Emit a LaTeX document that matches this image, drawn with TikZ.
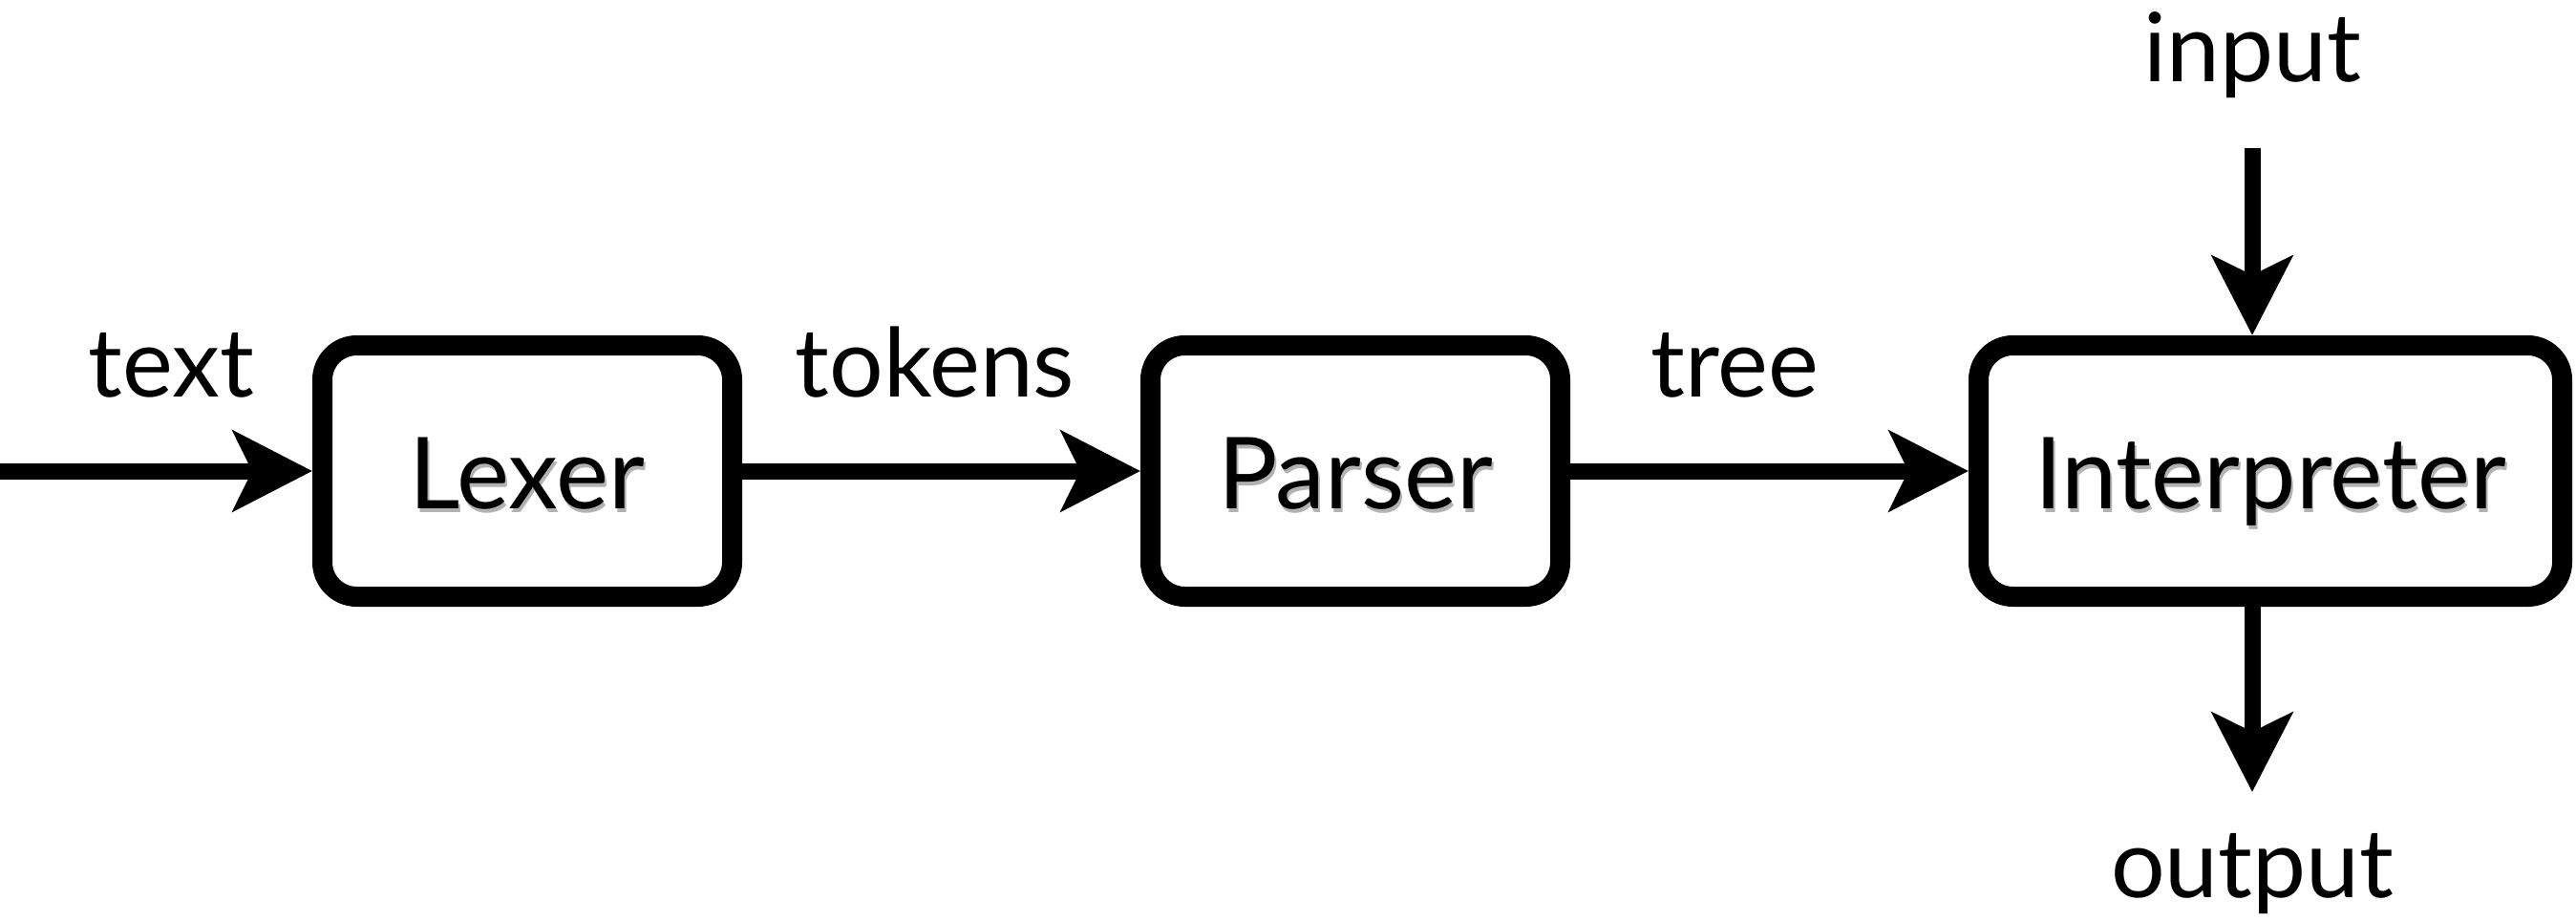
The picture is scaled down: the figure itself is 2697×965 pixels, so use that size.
\documentclass[tikz,border=0pt]{standalone}
\usepackage{fontspec}
\setmainfont{Lato}
\usetikzlibrary{arrows.meta}
% box caption with a soft drop shadow
\newcommand\shadowcap[1]{\leavevmode\rlap{\raisebox{-4pt}{\hspace{2pt}\textcolor{black!30}{#1}}}#1}
\begin{document}
\begin{tikzpicture}[x=1pt,y=-1pt,
  stage/.style={draw, line width=21pt, rounded corners=36pt, minimum height=263pt,
    inner sep=0pt, text height=78pt, text depth=0pt, font=\fontsize{104}{114}\selectfont},
  flow/.style={line width=17pt, -{Stealth[length=83pt,width=84pt,inset=20pt]}},
  tag/.style={font=\fontsize{100}{110}\selectfont, inner sep=0pt, anchor=base}]
\useasboundingbox (0,0) rectangle (2697,965);

% pipeline stages
\node[stage, minimum width=429pt] (lexer)  at (552,493)  {\shadowcap{Lexer}};
\node[stage, minimum width=429pt] (parser) at (1419,493) {\shadowcap{Parser}};
\node[stage, minimum width=611pt] (interp) at (2377,493) {\shadowcap{Interpreter}};

% data flow
\coordinate (src)  at (0,493);
\coordinate (inp)  at (2358,155);
\coordinate (outp) at (2358,829);
\draw[flow] (src) -- (lexer.west);
\draw[flow] (lexer.east) -- (parser.west);
\draw[flow] (parser.east) -- (interp.west);
\draw[flow] (inp) -- (inp |- interp.north);
\draw[flow] (outp |- interp.south) -- (outp);

% flow labels
\node[tag] (ltext)   at (179,415)  {text};
\node[tag] (ltokens) at (979,415)  {tokens};
\node[tag] (ltree)   at (1816,415) {tree};
\node[tag] (linput)  at (2358,86)  {input};
\node[tag] (loutput) at (2358,939) {output};
\end{tikzpicture}
\end{document}
